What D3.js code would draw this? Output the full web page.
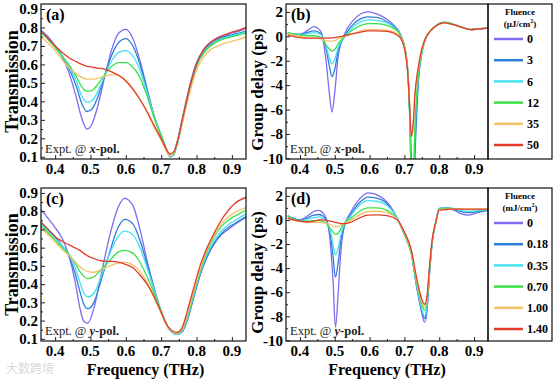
<!DOCTYPE html>
<html><head><meta charset="utf-8">
<script src="https://cdn.jsdelivr.net/npm/d3@7"></script>
<style>body{margin:0;background:#fff}svg{display:block}</style>
</head><body>
<script>
// ---------- data ----------
const seriesColors = ["#7b6cf0","#2c7fd8","#46e0f0","#3de04a","#f5c26a","#e23c2c"];
const legendX = ["0","3","6","12","35","50"];
const legendY = ["0","0.18","0.35","0.70","1.00","1.40"];
const xTicks = [0.4,0.5,0.6,0.7,0.8,0.9];
const transTicks = [0.1,0.2,0.3,0.4,0.5,0.6,0.7,0.8,0.9];
const gdTicks = [-10,-8,-6,-4,-2,0,2];

// (a) transmission, x-pol
const fA = [0.36,0.38,0.40,0.42,0.44,0.46,0.475,0.49,0.505,0.52,0.54,0.56,0.58,0.60,0.62,0.64,0.66,0.68,0.705,0.715,0.725,0.735,0.745,0.76,0.78,0.80,0.82,0.84,0.86,0.88,0.90,0.92,0.94];
const tA0 = [0.785,0.75,0.70,0.64,0.55,0.42,0.31,0.25,0.28,0.37,0.53,0.68,0.77,0.79,0.74,0.62,0.47,0.32,0.19,0.14,0.10,0.12,0.18,0.31,0.48,0.61,0.68,0.72,0.74,0.755,0.77,0.78,0.795];
const tA1 = [0.78,0.745,0.70,0.645,0.575,0.48,0.39,0.345,0.36,0.42,0.54,0.65,0.72,0.74,0.70,0.60,0.46,0.32,0.19,0.135,0.10,0.11,0.17,0.30,0.47,0.60,0.67,0.71,0.735,0.75,0.76,0.77,0.78];
const tA2 = [0.775,0.74,0.695,0.645,0.585,0.51,0.43,0.395,0.405,0.45,0.54,0.62,0.665,0.675,0.645,0.57,0.45,0.32,0.19,0.135,0.10,0.11,0.165,0.295,0.465,0.595,0.665,0.705,0.73,0.745,0.755,0.765,0.775];
const tA3 = [0.77,0.735,0.69,0.645,0.595,0.535,0.48,0.455,0.46,0.49,0.545,0.59,0.61,0.61,0.585,0.53,0.43,0.31,0.19,0.14,0.105,0.115,0.165,0.29,0.46,0.59,0.66,0.70,0.725,0.74,0.75,0.76,0.77];
const tA4 = [0.75,0.715,0.675,0.625,0.58,0.55,0.53,0.52,0.52,0.525,0.535,0.545,0.54,0.515,0.47,0.41,0.34,0.26,0.17,0.13,0.105,0.12,0.17,0.28,0.44,0.57,0.64,0.68,0.70,0.715,0.725,0.735,0.75];
const tA5 = [0.78,0.74,0.70,0.665,0.635,0.615,0.60,0.59,0.585,0.58,0.575,0.56,0.54,0.51,0.465,0.41,0.345,0.27,0.18,0.14,0.115,0.125,0.175,0.30,0.47,0.60,0.68,0.72,0.745,0.76,0.775,0.785,0.80];

// (b) group delay, x-pol
const fB = [0.365,0.38,0.40,0.42,0.44,0.46,0.467,0.475,0.485,0.492,0.50,0.51,0.53,0.55,0.575,0.595,0.62,0.65,0.67,0.69,0.70,0.71,0.715,0.72,0.725,0.73,0.74,0.75,0.76,0.78,0.80,0.815,0.835,0.86,0.89,0.91,0.94];
const gB0 = [0.25,0.2,0.15,0.45,0.8,0.4,-0.4,-2.0,-4.8,-6.2,-4.6,-1.6,0.3,1.2,1.85,2.0,1.85,1.4,0.9,0.1,-0.8,-3.0,-6,-11,-14,-9,-3.5,-1.3,-0.2,0.6,1.05,1.15,1.05,0.8,0.55,0.6,0.68];
const gB1 = [0.25,0.2,0.15,0.3,0.45,0.25,-0.2,-1.0,-2.5,-3.3,-2.7,-1.2,0.1,0.9,1.45,1.6,1.55,1.2,0.8,0.05,-0.8,-3.0,-6,-10.5,-14,-10,-3.8,-1.4,-0.25,0.6,1.05,1.15,1.05,0.8,0.55,0.6,0.68];
const gB2 = [0.3,0.2,0.1,0.2,0.3,0.15,-0.2,-0.8,-1.8,-2.25,-1.9,-0.9,0.0,0.7,1.2,1.35,1.3,1.1,0.75,0.05,-0.8,-3.0,-6.5,-12,-13,-8,-3.3,-1.3,-0.2,0.6,1.05,1.15,1.05,0.8,0.55,0.6,0.68];
const gB3 = [0.3,0.2,0.1,0.05,0.05,-0.1,-0.3,-0.7,-1.05,-1.2,-1.1,-0.6,0.0,0.5,0.9,1.05,1.05,0.9,0.65,0.0,-0.8,-3.0,-6.5,-11.5,-12,-7.5,-3.2,-1.3,-0.2,0.6,1.05,1.15,1.05,0.8,0.55,0.6,0.68];
const gB4 = [0.2,0.1,0.0,-0.1,-0.15,-0.2,-0.3,-0.35,-0.4,-0.4,-0.35,-0.2,0.0,0.2,0.45,0.55,0.55,0.5,0.35,-0.1,-0.9,-3.0,-5.5,-8.2,-7.5,-5,-2.6,-1.1,-0.2,0.6,1.0,1.1,1.0,0.8,0.55,0.6,0.68];
const gB5 = [0.1,0.0,-0.1,-0.15,-0.15,-0.15,-0.15,-0.15,-0.15,-0.12,-0.1,-0.05,0.05,0.2,0.35,0.45,0.45,0.4,0.25,-0.2,-1.0,-3.2,-5.8,-8.2,-7.2,-4.8,-2.5,-1.0,-0.2,0.6,1.0,1.1,1.0,0.8,0.55,0.6,0.68];

// (c) transmission, y-pol
const fC = [0.36,0.38,0.40,0.42,0.44,0.455,0.47,0.48,0.492,0.51,0.53,0.555,0.578,0.597,0.62,0.64,0.66,0.68,0.70,0.72,0.745,0.76,0.775,0.795,0.81,0.83,0.85,0.87,0.89,0.91,0.94];
const tC0 = [0.81,0.76,0.71,0.65,0.55,0.43,0.27,0.20,0.185,0.27,0.45,0.67,0.82,0.87,0.83,0.70,0.53,0.38,0.25,0.16,0.125,0.14,0.21,0.35,0.45,0.55,0.62,0.67,0.70,0.73,0.765];
const tC1 = [0.74,0.70,0.66,0.61,0.55,0.47,0.36,0.295,0.265,0.30,0.42,0.58,0.71,0.755,0.73,0.64,0.51,0.37,0.25,0.16,0.125,0.14,0.21,0.35,0.45,0.55,0.625,0.675,0.71,0.735,0.77];
const tC2 = [0.73,0.69,0.65,0.61,0.56,0.50,0.41,0.355,0.33,0.35,0.44,0.57,0.66,0.69,0.67,0.60,0.49,0.37,0.25,0.16,0.125,0.145,0.22,0.36,0.46,0.565,0.64,0.69,0.725,0.75,0.785];
const tC3 = [0.72,0.68,0.64,0.60,0.56,0.52,0.47,0.445,0.43,0.44,0.48,0.53,0.575,0.585,0.57,0.52,0.44,0.35,0.25,0.165,0.13,0.15,0.23,0.37,0.47,0.58,0.66,0.715,0.75,0.775,0.805];
const tC4 = [0.71,0.67,0.63,0.59,0.555,0.525,0.495,0.48,0.47,0.465,0.48,0.50,0.515,0.52,0.505,0.47,0.41,0.33,0.24,0.16,0.13,0.155,0.24,0.38,0.48,0.59,0.67,0.73,0.77,0.795,0.82];
const tC5 = [0.74,0.70,0.66,0.635,0.615,0.60,0.585,0.57,0.555,0.54,0.528,0.525,0.52,0.51,0.49,0.45,0.40,0.33,0.245,0.165,0.135,0.165,0.26,0.40,0.50,0.60,0.68,0.75,0.805,0.845,0.875];

// (d) group delay, y-pol
const fD = [0.365,0.38,0.40,0.42,0.44,0.455,0.467,0.477,0.487,0.495,0.502,0.51,0.517,0.527,0.545,0.57,0.595,0.62,0.65,0.68,0.70,0.72,0.735,0.748,0.758,0.765,0.772,0.78,0.79,0.80,0.815,0.835,0.86,0.885,0.91,0.94];
const gD0 = [0.35,0.15,0.0,0.3,0.7,0.8,0.55,0.0,-1.8,-5.0,-8.9,-6.0,-2.8,-0.6,0.6,1.7,2.25,2.1,1.5,0.1,-1.2,-2.8,-5.5,-7.5,-8.5,-7.5,-4.5,-1.8,-0.2,0.9,1.0,0.9,0.55,0.4,0.6,0.8];
const gD1 = [0.35,0.15,-0.05,0.15,0.4,0.45,0.3,-0.1,-1.2,-3.0,-4.75,-3.5,-1.8,-0.5,0.4,1.4,1.9,1.8,1.35,0.1,-1.2,-2.8,-5.5,-7.3,-8.2,-7.3,-4.4,-1.8,-0.2,0.95,1.0,0.95,0.7,0.6,0.7,0.8];
const gD2 = [0.35,0.1,-0.1,0.05,0.2,0.25,0.1,-0.2,-0.9,-2.0,-2.9,-2.3,-1.3,-0.4,0.3,1.2,1.6,1.55,1.2,0.1,-1.2,-2.8,-5.4,-7.2,-8.0,-7.1,-4.3,-1.8,-0.2,0.95,1.0,0.95,0.8,0.7,0.75,0.85];
const gD3 = [0.3,0.05,-0.1,-0.1,-0.05,-0.05,-0.15,-0.35,-0.7,-1.0,-1.2,-1.1,-0.75,-0.3,0.1,0.7,1.0,1.0,0.8,0.0,-1.2,-2.8,-5.2,-6.8,-7.5,-6.7,-4.1,-1.7,-0.2,0.9,0.95,0.95,0.9,0.85,0.85,0.85];
const gD4 = [0.2,0.0,-0.15,-0.2,-0.2,-0.2,-0.25,-0.3,-0.4,-0.5,-0.55,-0.55,-0.45,-0.3,-0.05,0.4,0.7,0.72,0.6,0.0,-1.1,-2.6,-5.0,-6.6,-7.2,-6.5,-4.0,-1.6,-0.2,0.85,0.9,0.9,0.9,0.9,0.9,0.9];
const gD5 = [0.15,0.0,-0.1,-0.15,-0.1,0.0,0.0,-0.05,-0.1,-0.15,-0.2,-0.25,-0.3,-0.3,-0.2,0.15,0.4,0.42,0.35,0.0,-1.0,-2.5,-4.8,-6.4,-7.0,-6.3,-3.9,-1.6,-0.2,0.8,0.85,0.9,0.9,0.9,0.9,0.9];

// ---------- drawing ----------
const W = 554, H = 381;
const svg = d3.select("body").append("svg").attr("width", W).attr("height", H);
const serif = "'Liberation Serif','Times New Roman',serif";

const panels = [
  {id:"a", box:[41,246,4,159], f:fA, ys:[tA0,tA1,tA2,tA3,tA4,tA5], dom:[0.088,0.927], ticks:transTicks, fmt:d3.format(".1f"), pol:"x", gd:false},
  {id:"b", box:[286,488,4,159], f:fB, ys:[gB0,gB1,gB2,gB3,gB4,gB5], dom:[-10.05,2.65], ticks:gdTicks, fmt:d=>String(d), pol:"x", gd:true, legend:legendX, unit:"(μJ/cm"},
  {id:"c", box:[41,246,188,341], f:fC, ys:[tC0,tC1,tC2,tC3,tC4,tC5], dom:[0.088,0.927], ticks:transTicks, fmt:d3.format(".1f"), pol:"y", gd:false, xtitle:true},
  {id:"d", box:[286,488,188,341], f:fD, ys:[gD0,gD1,gD2,gD3,gD4,gD5], dom:[-10.05,2.65], ticks:gdTicks, fmt:d=>String(d), pol:"y", gd:true, legend:legendY, unit:"(mJ/cm", xtitle:true},
];

panels.forEach(p => {
  const [x0,x1,y0,y1] = p.box;
  const x = d3.scaleLinear().domain([0.36,0.94]).range([x0,x1]);
  const y = d3.scaleLinear().domain(p.dom).range([y1,y0]);
  const g = svg.append("g");
  const clipId = "clip"+p.id;
  svg.append("clipPath").attr("id",clipId).append("rect")
     .attr("x",x0).attr("y",y0).attr("width",x1-x0).attr("height",y1-y0);

  // curves
  const line = d3.line().x((d,i)=>x(p.f[i])).y(d=>y(d)).curve(d3.curveMonotoneX);
  const cg = g.append("g").attr("clip-path",`url(#${clipId})`);
  p.ys.forEach((arr,k)=>{
    cg.append("path").attr("d",line(arr)).attr("fill","none")
      .attr("stroke",seriesColors[k]).attr("stroke-width",1.3);
  });

  // axes (inward ticks)
  g.append("g").attr("transform",`translate(0,${y1})`)
    .call(d3.axisBottom(x).tickValues(xTicks).tickSize(-4).tickFormat(""))
    .call(s=>s.select(".domain").remove());
  const xMinor = [0.45,0.55,0.65,0.75,0.85];
  g.append("g").attr("transform",`translate(0,${y1})`)
    .call(d3.axisBottom(x).tickValues(xMinor).tickSize(-2).tickFormat(""))
    .call(s=>s.select(".domain").remove());
  g.append("g").attr("transform",`translate(${x0},0)`)
    .call(d3.axisLeft(y).tickValues(p.ticks).tickSize(-4).tickFormat(""))
    .call(s=>s.select(".domain").remove());
  const step = p.ticks[1]-p.ticks[0];
  const yMinor = p.ticks.map(v=>v+step/2).filter(v=>v>p.dom[0]&&v<p.dom[1]);
  g.append("g").attr("transform",`translate(${x0},0)`)
    .call(d3.axisLeft(y).tickValues(yMinor).tickSize(-2).tickFormat(""))
    .call(s=>s.select(".domain").remove());
  g.selectAll(".tick line").attr("stroke","#222").attr("stroke-width",1);

  // tick labels
  g.selectAll(null).data(xTicks).enter().append("text")
    .attr("x",d=>x(d)).attr("y",y1+15).attr("text-anchor","middle")
    .attr("font-family",serif).attr("font-weight","bold").attr("font-size",15)
    .text(d=>d3.format(".1f")(d));
  g.selectAll(null).data(p.ticks).enter().append("text")
    .attr("x",x0-3).attr("y",d=>y(d)).attr("dy","0.35em").attr("text-anchor","end")
    .attr("font-family",serif).attr("font-weight","bold").attr("font-size",15)
    .text(p.fmt);

  // frame
  g.append("rect").attr("x",x0).attr("y",y0).attr("width",x1-x0).attr("height",y1-y0)
    .attr("fill","none").attr("stroke","#111").attr("stroke-width",1.2);

  // panel label
  g.append("text").attr("x",x0+5).attr("y",y0+16)
    .attr("font-family",serif).attr("font-weight","bold").attr("font-size",16)
    .text(`(${p.id})`);

  // Expt label
  const t = g.append("text").attr("x",x0+4).attr("y",y1-6)
    .attr("font-family",serif).attr("font-size",12.5).attr("fill","#222");
  t.append("tspan").text("Expt. @ ");
  t.append("tspan").attr("font-style","italic").attr("font-weight","bold").text(p.pol);
  t.append("tspan").attr("font-weight","bold").text("-pol.");

  // y title
  const ytx = p.gd ? 263 : 17.5;
  const yty = (y0+y1)/2 + (p.gd ? 8 : 0);
  g.append("text").attr("transform",`translate(${ytx},${yty}) rotate(-90)`)
    .attr("text-anchor","middle").attr("font-family",serif).attr("font-weight","bold")
    .attr("font-size", p.gd ? 17 : 18).text(p.gd ? "Group delay (ps)" : "Transmission");

  // x title
  if (p.xtitle) {
    g.append("text").attr("x",(x0+x1)/2 + (p.gd?0:2)).attr("y",375).attr("text-anchor","middle")
      .attr("font-family",serif).attr("font-weight","bold").attr("font-size",16)
      .text("Frequency (THz)");
  }

  // legend
  if (p.legend) {
    const lx0 = x1, lx1 = 552;
    g.append("rect").attr("x",lx0).attr("y",y0).attr("width",lx1-lx0).attr("height",y1-y0)
      .attr("fill","none").attr("stroke","#111").attr("stroke-width",1.2);
    const cx = (lx0+lx1)/2;
    g.append("text").attr("x",cx).attr("y",y0+11).attr("text-anchor","middle")
      .attr("font-family",serif).attr("font-weight","bold").attr("font-size",9).text("Fluence");
    const u = g.append("text").attr("x",cx).attr("y",y0+23).attr("text-anchor","middle")
      .attr("font-family",serif).attr("font-weight","bold").attr("font-size",9);
    u.append("tspan").text(p.unit);
    u.append("tspan").attr("dy",-4).attr("font-size",6).text("2");
    u.append("tspan").attr("dy",4).text(")");
    p.legend.forEach((lab,k)=>{
      const ly = y0 + 35 + k*21.2;
      g.append("line").attr("x1",494).attr("x2",523).attr("y1",ly).attr("y2",ly)
        .attr("stroke",seriesColors[k]).attr("stroke-width",2.5);
      g.append("text").attr("x",527).attr("y",ly).attr("dy","0.35em")
        .attr("font-family",serif).attr("font-weight","bold").attr("font-size",12).text(lab);
    });
  }
});

// faint watermark
svg.append("text").attr("x",6).attr("y",373).attr("font-family","'Noto Sans CJK SC',sans-serif")
  .attr("font-size",12).attr("fill","#d8d8d8").text("大数跨境");
</script>
</body></html>
